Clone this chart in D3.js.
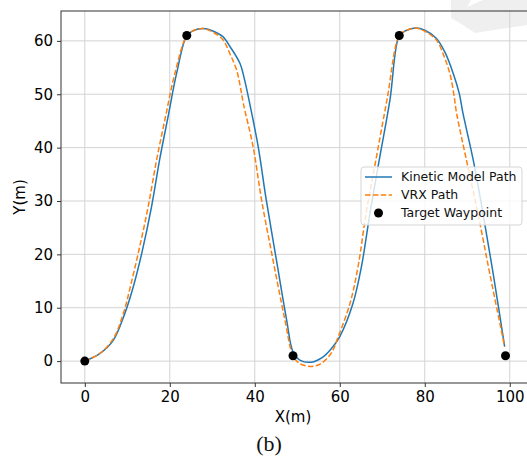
<!DOCTYPE html>
<html lang="en">
<head>
    <meta charset="utf-8">
    <title>Kinetic Model Path vs VRX Path</title>
    <script src="https://d3js.org/d3.v7.min.js"></script>
    <style>
        body { margin: 0; background: #fff; }
        text { font-family: "DejaVu Sans", sans-serif; }
    </style>
</head>
<body>
<svg width="527" height="466"></svg>
<script>
    // data, [x, y] in metres
    var kineticPath = [
        [0,0],[3.5,1.4],[6.7,3.9],[9.4,8.9],[11.4,13.9],[13.4,20.2],[15.7,28.9],[17.6,37.7],
        [19.6,45.8],[21.6,53.9],[24,61],[25.5,61.9],[27.8,62.3],[30,61.9],[32.5,60.8],[34.2,58.9],
        [36.5,55.8],[37.6,52.7],[38.8,48.3],[40.8,40.2],[42.7,30.2],[45.1,18.9],[47.5,7.7],[49,1.7],[50.6,0.2],
        [53.3,-0.2],[56.1,0.8],[58,2.3],[60,4.6],[63.1,10.8],[65.1,17.7],[67.1,27.7],[69,36.4],
        [71.8,48.9],[74,61],[75.5,61.9],[77.8,62.4],[80,62],[82.7,60.5],[84.8,57.8],[86.7,53.9],
        [88.1,50.2],[89,46.4],[91.4,37.7],[93.7,27.7],[96.1,16.4],[98.8,2.7]
    ];
    var vrxPath = [
        [0,0],[3.5,1.4],[6.7,4.2],[9.1,9],[10.8,14.2],[12.8,21],[14.9,28.9],[16.9,37.7],
        [19,45.8],[21.2,53.9],[24,61],[25.5,61.9],[27.8,62.3],[30,61.7],[32.5,60.2],[34.2,57.5],
        [35.7,54.6],[36.6,51.4],[37.3,48.3],[39.6,40.2],[41.6,30.2],[44.3,18.9],[47.1,7.7],[49,1],[50.5,-0.4],
        [53,-1],[55.5,-0.5],[58,1.5],[59.6,4.5],[62.4,10.8],[64.3,17.7],[66.2,27.7],[68.2,36.4],
        [71.1,48.9],[74,61],[75.5,61.9],[77.8,62.4],[80,61.8],[82.7,60.2],[84.5,57.2],[85.9,53.9],
        [86.8,50.2],[87.5,46.4],[89.8,37.7],[92.5,27.7],[95.3,16.4],[98.8,2.7]
    ];
    var waypoints = [[0,0],[24,61],[49,1],[74,61],[99,1]];
    var xTicks = [0, 20, 40, 60, 80, 100];
    var yTicks = [0, 10, 20, 30, 40, 50, 60];
    var legendNames = ["Kinetic Model Path", "VRX Path", "Target Waypoint"];

    var svg = d3.select("svg");
    var box = {left: 61, right: 531, top: 11, bottom: 383};

    var x = d3.scaleLinear().domain([-5.6, 105]).range([box.left, box.right]);
    var y = d3.scaleLinear().domain([-4.1, 65.6]).range([box.bottom, box.top]);

    // faint watermark in the top right corner
    svg.append("polygon")
        .attr("points", "451,0 471,0 467,7 483,0 527,0 527,25 475,33 463,25 451,18")
        .attr("fill", "#efefef");

    svg.append("clipPath").attr("id", "plot")
        .append("rect").attr("x", box.left).attr("y", box.top)
        .attr("width", box.right - box.left).attr("height", box.bottom - box.top);

    // grid
    var grid = svg.append("g").attr("clip-path", "url(#plot)");
    grid.selectAll(".gx").data(xTicks).enter().append("line")
        .attr("x1", d => x(d)).attr("x2", d => x(d))
        .attr("y1", box.top).attr("y2", box.bottom)
        .attr("stroke", "#d3d3d3").attr("stroke-width", 1);
    grid.selectAll(".gy").data(yTicks).enter().append("line")
        .attr("x1", box.left).attr("x2", box.right)
        .attr("y1", d => y(d)).attr("y2", d => y(d))
        .attr("stroke", "#d3d3d3").attr("stroke-width", 1);

    var line = d3.line()
        .x(d => x(d[0]))
        .y(d => y(d[1]))
        .curve(d3.curveCatmullRom.alpha(0.5));

    var plot = svg.append("g").attr("clip-path", "url(#plot)");
    plot.append("path").datum(kineticPath)
        .attr("d", line)
        .attr("fill", "none").attr("stroke", "#1f77b4").attr("stroke-width", 1.5);
    plot.append("path").datum(vrxPath)
        .attr("d", line)
        .attr("fill", "none").attr("stroke", "#ff7f0e").attr("stroke-width", 1.5)
        .attr("stroke-dasharray", "5.5,2.4");
    plot.selectAll("circle").data(waypoints).enter().append("circle")
        .attr("cx", d => x(d[0])).attr("cy", d => y(d[1]))
        .attr("r", 4.5).attr("fill", "#000");

    // axes
    var xAxis = svg.append("g")
        .attr("transform", "translate(0," + box.bottom + ")")
        .call(d3.axisBottom(x).tickValues(xTicks).tickSize(4).tickPadding(4).tickFormat(d3.format("d")));
    var yAxis = svg.append("g")
        .attr("transform", "translate(" + box.left + ",0)")
        .call(d3.axisLeft(y).tickValues(yTicks).tickSize(4).tickPadding(4).tickFormat(d3.format("d")));
    [xAxis, yAxis].forEach(function(a) {
        a.select(".domain").remove();
        a.selectAll("line").attr("stroke", "#333");
        a.selectAll("text").attr("font-size", 15).attr("fill", "#000")
            .style("font-family", "'DejaVu Sans', sans-serif");
    });

    // spines
    svg.append("rect")
        .attr("x", box.left).attr("y", box.top)
        .attr("width", box.right - box.left).attr("height", box.bottom - box.top)
        .attr("fill", "none").attr("stroke", "#333").attr("stroke-width", 1);

    // axis labels
    svg.append("text").attr("x", 293).attr("y", 422)
        .attr("text-anchor", "middle").attr("font-size", 15).attr("fill", "#000")
        .text("X(m)");
    svg.append("text")
        .attr("transform", "translate(25," + ((box.top + box.bottom) / 2) + ") rotate(-90)")
        .attr("text-anchor", "middle").attr("font-size", 15).attr("fill", "#000")
        .text("Y(m)");
    svg.append("text").attr("x", 269).attr("y", 451)
        .attr("text-anchor", "middle").attr("font-size", 22).attr("fill", "#111")
        .style("font-family", "'Liberation Serif', serif")
        .text("(b)");

    // legend
    var lg = svg.append("g").attr("transform", "translate(361,167)");
    lg.append("rect")
        .attr("width", 161).attr("height", 58).attr("rx", 3)
        .attr("fill", "#fff").attr("fill-opacity", 0.8)
        .attr("stroke", "#d5d5d5").attr("stroke-width", 1);
    var rowY = [10, 28, 46];
    lg.append("line").attr("x1", 4).attr("x2", 31).attr("y1", rowY[0]).attr("y2", rowY[0])
        .attr("stroke", "#1f77b4").attr("stroke-width", 1.5);
    lg.append("line").attr("x1", 4).attr("x2", 31).attr("y1", rowY[1]).attr("y2", rowY[1])
        .attr("stroke", "#ff7f0e").attr("stroke-width", 1.5).attr("stroke-dasharray", "5.5,2.4");
    lg.append("circle").attr("cx", 17.5).attr("cy", rowY[2]).attr("r", 4.5).attr("fill", "#000");
    lg.selectAll(".lt").data(legendNames).enter().append("text")
        .attr("x", 40).attr("y", (d, i) => rowY[i])
        .attr("dy", "0.35em")
        .attr("font-size", 12.5).attr("fill", "#111")
        .text(d => d);
</script>
</body>
</html>
